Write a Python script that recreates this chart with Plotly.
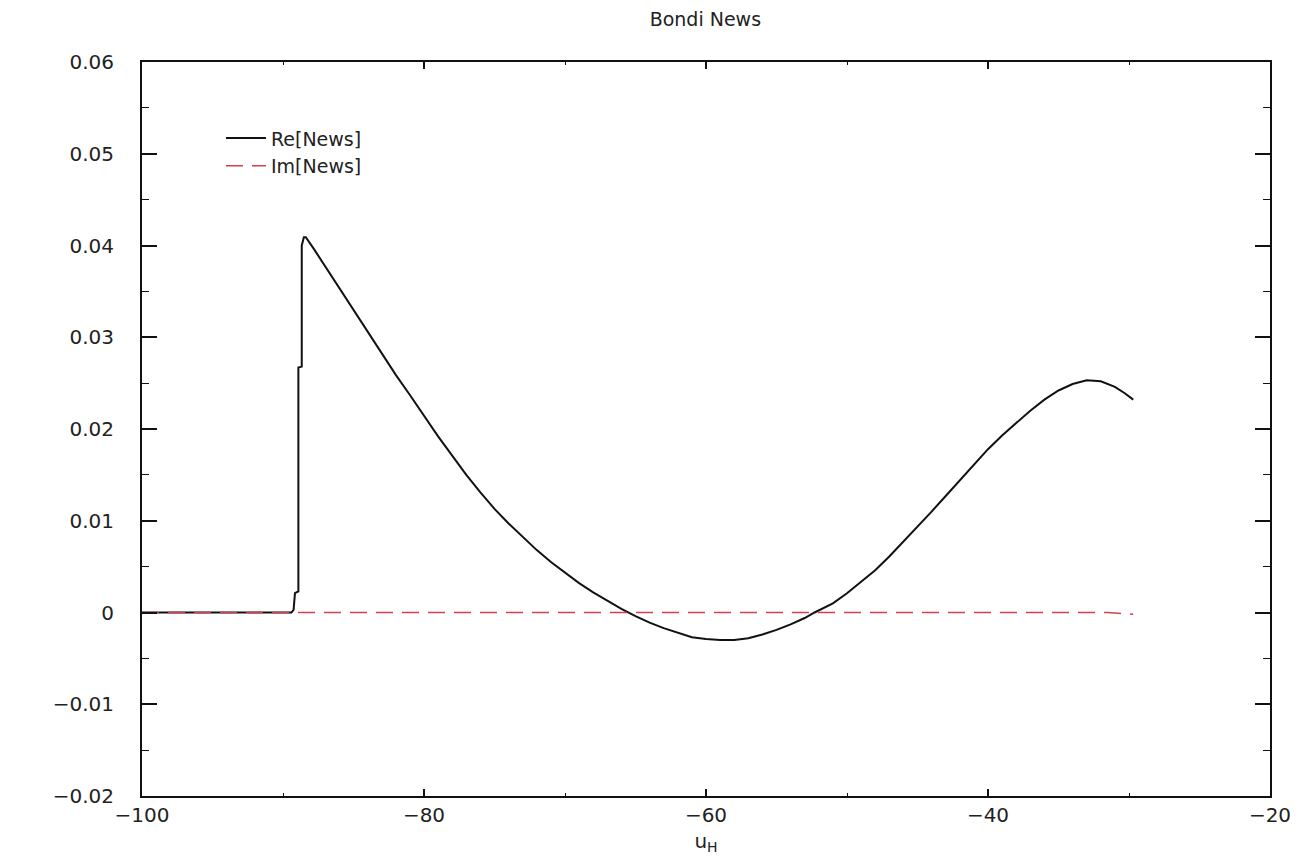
import plotly.graph_objects as go

# Data
re_u = [-100, -89.4, -89.25, -89.15, -88.91, -88.91, -88.67, -88.67, -88.52, -88.38,
        -87.8, -87.0, -86.0, -85.0, -84.0, -83.0, -82.0, -81.0, -80.0, -79.0,
        -78.0, -77.0, -76.0, -75.0, -74.0, -73.0, -72.0, -71.0, -70.0, -69.0,
        -68.0, -67.0, -66.0, -65.0, -64.0, -63.0, -62.0, -61.0, -60.0, -59.0,
        -58.0, -57.0, -56.0, -55.0, -54.0, -53.0, -52.3, -51.0, -50.0, -49.0,
        -48.0, -47.0, -46.0, -45.0, -44.0, -43.0, -42.0, -41.0, -40.0, -39.0,
        -38.0, -37.0, -36.0, -35.0, -34.0, -33.0, -32.0, -31.0, -30.3, -29.7]
re_news = [0.0, 0.0, 0.0003, 0.0021, 0.0023, 0.0267, 0.0268, 0.0400, 0.0409, 0.0409,
           0.0396, 0.0377, 0.0353, 0.0329, 0.0305, 0.0282, 0.0259, 0.0237, 0.0214, 0.0192,
           0.0171, 0.0150, 0.0131, 0.0113, 0.0097, 0.0082, 0.0068, 0.0055, 0.0043, 0.0032,
           0.0022, 0.0013, 0.0004, -0.0004, -0.0011, -0.0017, -0.0022, -0.0027, -0.0029, -0.0030,
           -0.0030, -0.0028, -0.0024, -0.0019, -0.0013, -0.0006, 0.0, 0.0010, 0.0021, 0.0033,
           0.0046, 0.0061, 0.0077, 0.0093, 0.0110, 0.0127, 0.0144, 0.0161, 0.0178, 0.0193,
           0.0207, 0.0220, 0.0232, 0.0242, 0.0249, 0.0253, 0.0252, 0.0246, 0.0239, 0.0232]

im_u = [-100, -31.5, -29.7]
im_news = [0.0, 0.0, -0.0002]

x_ticks = [-100, -80, -60, -40, -20]
x_tick_text = ["\u2212100", "\u221280", "\u221260", "\u221240", "\u221220"]
y_ticks = [-0.02, -0.01, 0, 0.01, 0.02, 0.03, 0.04, 0.05, 0.06]
y_tick_text = ["\u22120.02", "\u22120.01", "0", "0.01", "0.02", "0.03", "0.04", "0.05", "0.06"]

FONT = "DejaVu Sans"
TXT = "#222222"

fig = go.Figure()
fig.add_trace(go.Scatter(x=re_u, y=re_news, mode="lines", name="Re[News]",
                         line=dict(color="#111111", width=2)))
fig.add_trace(go.Scatter(x=im_u, y=im_news, mode="lines", name="Im[News]",
                         line=dict(color="#d2404f", width=1.5, dash="17px,9px")))

axis_common = dict(
    showline=True, linecolor="#111111", linewidth=2, mirror="ticks",
    ticks="inside", tickcolor="#111111", showgrid=False, zeroline=False,
    automargin=False,
    tickfont=dict(family=FONT, size=20, color=TXT),
)

fig.update_xaxes(
    range=[-100, -20], tickvals=x_ticks, ticktext=x_tick_text,
    ticklen=7, tickwidth=1.5,
    minor=dict(ticks="inside", dtick=10, ticklen=3, tickwidth=1.2, tickcolor="#111111"),
    ticklabelstandoff=0,
    title=dict(text="u<sub>H</sub>", font=dict(family=FONT, size=20, color=TXT), standoff=8),
    **axis_common,
)
fig.update_yaxes(
    range=[-0.02, 0.06], tickvals=y_ticks, ticktext=y_tick_text,
    ticklen=15, tickwidth=1.5,
    minor=dict(ticks="inside", dtick=0.005, ticklen=7, tickwidth=1.2, tickcolor="#111111"),
    ticklabelstandoff=22,
    **axis_common,
)

fig.update_layout(
    width=1301, height=848,
    margin=dict(l=134, r=39, t=54, b=60, autoexpand=False),
    paper_bgcolor="white", plot_bgcolor="white",
    title=dict(text="Bondi News", x=0.536, xanchor="center", y=0.995, yanchor="top",
               font=dict(family=FONT, size=19, color=TXT), automargin=False),
    legend=dict(x=0.07, y=0.922, xanchor="left", yanchor="top",
                bgcolor="rgba(0,0,0,0)", font=dict(family=FONT, size=19, color=TXT),
                tracegroupgap=0, itemwidth=40),
    showlegend=True,
)

fig.write_html("out.html")
